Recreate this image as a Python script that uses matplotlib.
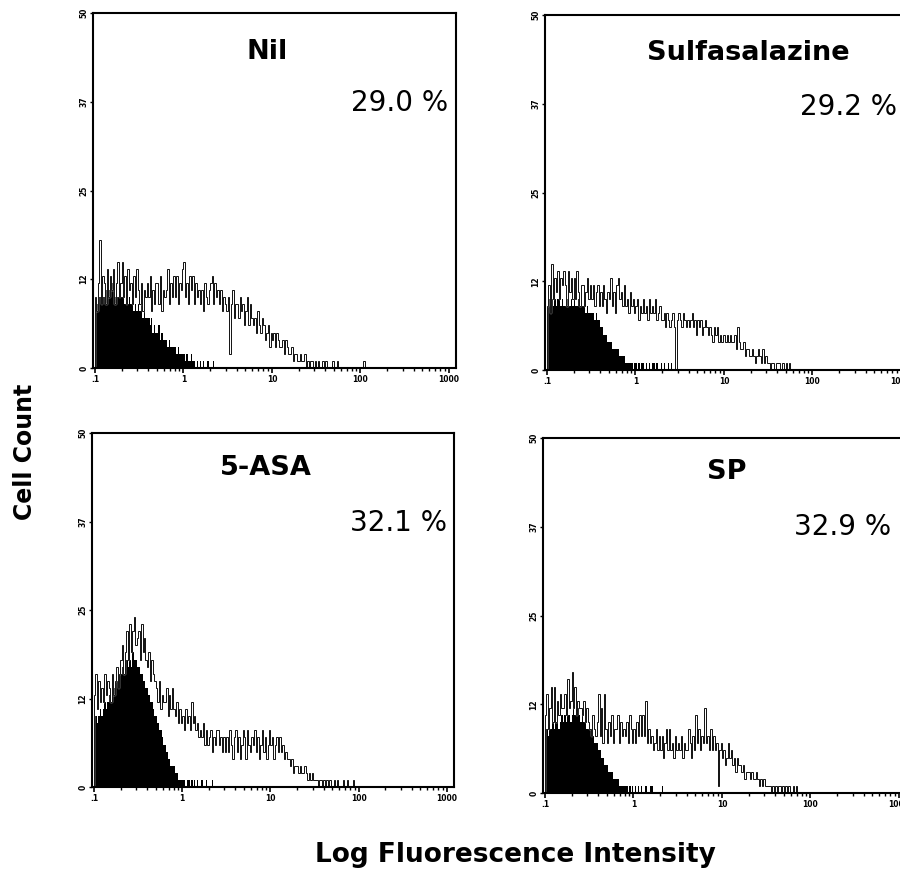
import numpy as np
import matplotlib
matplotlib.use("Agg")
import matplotlib.pyplot as plt

# ---------------- data ----------------
BINS_PER_DECADE = 60          # histogram channels per decade, starting at 0.1
panel_names = ["Nil", "Sulfasalazine", "5-ASA", "SP"]
percent_labels = ["29.0 %", "29.2 %", "32.1 %", "32.9 %"]

x_ticks = [0.1, 1, 10, 100, 1000]
x_tick_labels = [".1", "1", "10", "100", "1000"]
y_ticks = [0, 12.5, 25, 37.5, 50]
y_tick_labels = ["0", "12", "25", "37", "50"]

nil_outline = [10, 8, 12, 18, 9, 13, 12, 9, 14, 10, 13, 11,
               14, 9, 12, 15, 10, 12, 15, 10, 13, 9, 14, 11,
               12, 9, 13, 10, 14, 11, 9, 12, 8, 11, 10, 12,
               10, 13, 8, 11, 9, 12, 12, 9, 13, 8, 11, 10,
               11, 14, 9, 12, 10, 13, 10, 13, 9, 12, 11, 14,
               15, 10, 12, 9, 13, 11, 13, 9, 12, 10, 11, 9,
               11, 8, 12, 10, 9, 11, 12, 13, 9, 12, 10, 11,
               9, 11, 8, 10, 9, 8, 10, 2, 9, 11, 7, 9,
               9, 7, 10, 8, 9, 6, 8, 10, 6, 9, 7, 6,
               7, 5, 8, 6, 5, 7, 6, 4, 5, 6, 3, 5,
               4, 5, 3, 5, 4, 3, 3, 4, 2, 4, 3, 2,
               2, 3, 1, 2, 2, 1, 1, 2, 1, 1, 2, 0,
               1, 0, 1, 1, 0, 1, 0, 1, 0, 0, 1, 0,
               1, 0, 0, 0, 0, 1, 0, 0, 1, 0, 0, 0,
               0, 0, 0, 0, 0, 0, 0, 0, 0, 0, 0, 0,
               0, 0, 1, 0, 0, 0]
nil_filled = [10, 9, 11, 10, 11, 10, 10, 11, 9, 11, 10, 12,
              11, 10, 12, 10, 11, 10, 10, 11, 9, 10, 9, 10,
              9, 10, 8, 9, 8, 9, 8, 9, 7, 8, 7, 7,
              7, 6, 7, 5, 6, 5, 5, 6, 4, 5, 4, 4,
              4, 3, 4, 3, 3, 3, 3, 2, 3, 2, 2, 2,
              2, 1, 2, 1, 1, 2, 1, 1, 0, 1, 0, 1,
              0, 1, 0, 0, 1, 0, 0, 0, 1, 0, 0, 0]

sulfa_outline = [9, 12, 8, 15, 10, 13, 11, 14, 10, 13, 12, 14,
                 12, 9, 14, 11, 13, 10, 13, 10, 14, 11, 9, 12,
                 12, 9, 11, 13, 10, 12, 10, 12, 9, 11, 12, 9,
                 11, 9, 12, 10, 8, 11, 10, 13, 9, 11, 8, 12,
                 13, 10, 11, 9, 12, 9, 10, 8, 11, 9, 10, 8,
                 9, 10, 7, 9, 8, 10, 8, 9, 7, 10, 8, 9,
                 8, 10, 7, 8, 9, 7, 7, 8, 6, 8, 7, 6,
                 7, 8, 6, 0, 7, 8, 7, 6, 8, 7, 6, 7,
                 6, 7, 8, 6, 7, 5, 7, 6, 7, 5, 6, 7,
                 6, 5, 6, 5, 4, 6, 5, 6, 4, 5, 4, 5,
                 5, 4, 5, 4, 5, 4, 4, 5, 3, 6, 4, 3,
                 3, 4, 2, 3, 3, 2, 2, 3, 2, 1, 2, 3,
                 2, 1, 3, 1, 2, 1, 1, 0, 1, 1, 0, 1,
                 1, 1, 0, 1, 1, 0, 1, 0, 1, 0, 0, 0]
sulfa_filled = [9, 10, 9, 10, 9, 10, 9, 10, 10, 9, 10, 9,
                9, 10, 9, 9, 10, 9, 10, 9, 9, 10, 9, 9,
                9, 9, 8, 9, 8, 8, 8, 8, 7, 8, 7, 7,
                6, 6, 5, 5, 5, 4, 4, 4, 3, 3, 3, 3,
                3, 2, 2, 2, 2, 1, 1, 1, 1, 1, 0, 1,
                1, 0, 1, 0, 1, 1, 0, 1, 0, 1, 0, 1,
                1, 0, 1, 0, 0, 1, 0, 1, 0, 0, 1, 0,
                1, 0, 0, 0, 0, 0]

asa_outline = [13, 16, 11, 15, 12, 14, 12, 16, 13, 15, 14, 12,
               16, 13, 15, 17, 14, 16, 18, 20, 16, 19, 22, 18,
               23, 19, 22, 24, 20, 21, 22, 18, 23, 19, 21, 18,
               17, 19, 15, 18, 16, 15, 14, 12, 15, 11, 13, 12,
               12, 14, 10, 13, 11, 14, 11, 10, 12, 9, 11, 9,
               10, 8, 11, 9, 10, 8, 12, 9, 10, 8, 9, 7,
               8, 7, 9, 6, 8, 6, 7, 8, 5, 7, 6, 8,
               8, 6, 7, 5, 7, 5, 7, 5, 8, 6, 4, 7,
               8, 5, 7, 4, 6, 8, 7, 4, 8, 6, 5, 7,
               6, 8, 5, 7, 4, 6, 8, 5, 7, 4, 6, 8,
               6, 7, 4, 6, 7, 5, 7, 5, 6, 4, 5, 4,
               4, 3, 4, 2, 3, 3, 3, 2, 3, 2, 2, 3,
               2, 1, 2, 1, 2, 1, 1, 1, 0, 1, 1, 0,
               1, 0, 1, 0, 1, 0, 0, 1, 0, 1, 0, 0,
               0, 1, 0, 0, 1, 0, 0, 0, 1, 0, 0, 0]
asa_filled = [9, 10, 9, 10, 11, 10, 11, 12, 11, 12, 13, 12,
              13, 14, 13, 15, 14, 15, 16, 17, 16, 17, 18, 17,
              18, 17, 19, 18, 18, 17, 17, 16, 16, 15, 15, 14,
              14, 13, 12, 12, 11, 10, 10, 9, 8, 8, 7, 6,
              6, 5, 4, 4, 3, 3, 3, 2, 2, 1, 1, 1,
              1, 1, 0, 1, 1, 0, 1, 0, 1, 0, 1, 0,
              0, 1, 0, 0, 1, 0, 0, 0, 1, 0, 0, 0]

sp_outline = [11, 14, 9, 12, 15, 10, 15, 10, 13, 11, 14, 12,
              12, 14, 11, 16, 12, 13, 17, 12, 15, 11, 13, 12,
              12, 11, 13, 10, 12, 10, 9, 8, 11, 9, 8, 10,
              14, 8, 12, 7, 14, 9, 7, 10, 8, 11, 7, 9,
              9, 11, 7, 10, 8, 9, 8, 10, 7, 11, 9, 7,
              9, 7, 10, 8, 11, 8, 11, 8, 13, 7, 9, 7,
              8, 6, 7, 9, 6, 8, 6, 8, 5, 7, 9, 6,
              9, 6, 7, 5, 8, 6, 7, 6, 8, 5, 7, 6,
              6, 9, 7, 5, 8, 6, 11, 7, 9, 6, 8, 7,
              12, 7, 8, 6, 9, 6, 8, 6, 7, 1, 6, 7,
              5, 6, 4, 5, 7, 5, 6, 4, 5, 3, 5, 4,
              4, 3, 4, 2, 3, 3, 3, 2, 3, 2, 2, 3,
              2, 1, 2, 1, 2, 1, 1, 1, 1, 0, 1, 0,
              1, 0, 1, 1, 0, 1, 0, 1, 0, 1, 0, 0,
              1, 0, 1, 0, 0, 0]
sp_filled = [8, 9, 8, 9, 9, 10, 9, 10, 10, 9, 10, 11,
             10, 11, 10, 11, 11, 10, 11, 12, 11, 11, 12, 11,
             10, 11, 10, 10, 9, 9, 9, 8, 8, 7, 7, 7,
             6, 6, 5, 5, 4, 4, 4, 3, 3, 3, 2, 2,
             2, 2, 1, 1, 1, 1, 1, 1, 0, 1, 0, 1,
             0, 1, 0, 1, 0, 1, 0, 0, 1, 0, 0, 1,
             1, 0, 0, 0, 0, 0, 0, 1, 0, 0, 0, 0]

outlines = [nil_outline, sulfa_outline, asa_outline, sp_outline]
filleds = [nil_filled, sulfa_filled, asa_filled, sp_filled]

# ---------------- layout ----------------
W, H = 900, 874
# axes boxes in pixels: left, top, right, bottom
rects = [(93, 13, 456, 368), (545, 15, 908, 370),
         (92, 433, 454, 787), (543, 438, 906, 793)]
title_pos = [(0.48, 0.89), (0.56, 0.893), (0.48, 0.90), (0.507, 0.904)]
pct_pos = [(0.978, 0.746), (0.97, 0.741), (0.98, 0.746), (0.96, 0.749)]

fig = plt.figure(figsize=(W / 100, H / 100), dpi=100)
fig.patch.set_facecolor("white")


def edges_for(n):
    return 10 ** (-1 + np.arange(n + 1) / BINS_PER_DECADE)


for i, (l, t, r, b) in enumerate(rects):
    ax = fig.add_axes([l / W, 1 - b / H, (r - l) / W, (b - t) / H])
    f = np.asarray(filleds[i], dtype=float)
    o = np.asarray(outlines[i], dtype=float)
    ax.stairs(f, edges_for(len(f)), fill=True, color="black", lw=0)
    ax.stairs(o, edges_for(len(o)), color="white", lw=1.0)
    ax.stairs(o, edges_for(len(o)), color="black", lw=0.65)

    ax.set_xscale("log")
    ax.set_xlim(0.095, 1200)
    ax.set_ylim(0, 50)
    ax.set_xticks(x_ticks)
    ax.set_xticklabels(x_tick_labels, fontsize=5.5, fontweight="bold")
    ax.xaxis.set_minor_formatter(matplotlib.ticker.NullFormatter())
    ax.set_yticks(y_ticks)
    ax.set_yticklabels(y_tick_labels, fontsize=5.5, fontweight="bold",
                       rotation=90, va="center")
    ax.tick_params(axis="x", which="major", direction="out", length=3.5,
                   width=1.2, pad=1.5)
    ax.tick_params(axis="x", which="minor", direction="out", length=2.2,
                   width=1.0)
    ax.tick_params(axis="y", which="major", direction="out", length=2,
                   width=1.0, pad=1.5)
    for s in ax.spines.values():
        s.set_linewidth(1.5)
        s.set_color("black")

    ax.text(title_pos[i][0], title_pos[i][1], panel_names[i],
            transform=ax.transAxes, ha="center", va="center",
            fontsize=19.5, fontweight="bold")
    ax.text(pct_pos[i][0], pct_pos[i][1], percent_labels[i],
            transform=ax.transAxes, ha="right", va="center", fontsize=20)

fig.text(25 / W, 1 - 452 / H, "Cell Count", rotation=90, ha="center",
         va="center", fontsize=17, fontweight="bold")
fig.text(315 / W, 1 - 862 / H, "Log Fluorescence Intensity", ha="left",
         va="baseline", fontsize=19, fontweight="bold")

fig.savefig("out.png", dpi=100, facecolor="white")
